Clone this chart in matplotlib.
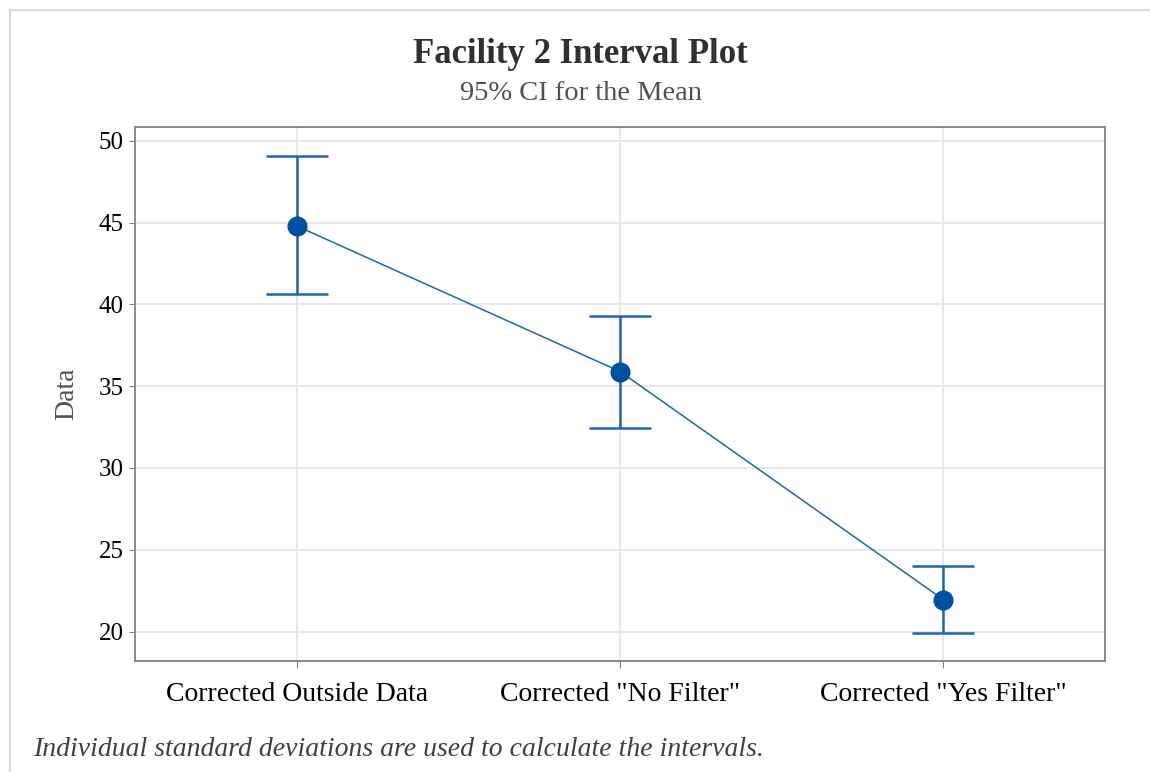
import matplotlib
matplotlib.use("Agg")
from matplotlib import pyplot as plt
from matplotlib.lines import Line2D

categories = ['Corrected Outside Data', 'Corrected "No Filter"', 'Corrected "Yes Filter"']
means = [44.8, 35.9, 21.95]
lower = [40.65, 32.45, 19.9]
upper = [49.1, 39.3, 24.0]
yticks = [20, 25, 30, 35, 40, 45, 50]

plt.rcParams['font.family'] = ['Liberation Serif', 'DejaVu Serif']

line_blue = '#1f64b4'
dot_blue = '#0050a0'

fig = plt.figure(figsize=(11.5, 7.72), dpi=100)
ax = fig.add_axes([0.1174, 0.1438, 0.8435, 0.6917])

x = list(range(len(categories)))
err_lo = [m - l for m, l in zip(means, lower)]
err_hi = [u - m for m, u in zip(means, upper)]

ax.errorbar(x, means, yerr=[err_lo, err_hi], fmt='none', ecolor=line_blue,
            elinewidth=1.8, capsize=22, capthick=1.8, zorder=3)
ax.plot(x, means, color=line_blue, linewidth=1.1, zorder=3)
ax.plot(x, means, 'o', color=dot_blue, markersize=13.5, zorder=4)

ax.set_xlim(-0.5, 2.5)
ax.set_ylim(18.2, 50.85)
ax.set_xticks(x)
ax.set_xticklabels(categories, fontsize=20)
ax.set_yticks(yticks)
ax.tick_params(axis='y', labelsize=18, length=4, color='#808080', pad=4)
ax.tick_params(axis='x', length=5, color='#808080', pad=10)
ax.grid(True, color='#e3e3e3', linewidth=1.2)
ax.set_axisbelow(True)
for s in ax.spines.values():
    s.set_color('#8a8a8a')
    s.set_linewidth(1.4)

ax.set_ylabel('Data', fontsize=20, color='#505050', labelpad=14)

fig.text(0.505, 0.929, 'Facility 2 Interval Plot', ha='center', va='center',
         fontsize=25, fontweight='bold', color='#303030')
fig.text(0.505, 0.879, '95% CI for the Mean', ha='center', va='center',
         fontsize=20.5, color='#505050')
fig.text(0.029, 0.029, 'Individual standard deviations are used to calculate the intervals.',
         ha='left', va='center', fontsize=20, style='italic', color='#404040')

# light frame of the original screenshot
fig.add_artist(Line2D([0.009, 1.0], [0.987, 0.987], transform=fig.transFigure,
                      color='#d8d8d8', linewidth=1.5))
fig.add_artist(Line2D([0.009, 0.009], [0.0, 0.987], transform=fig.transFigure,
                      color='#d8d8d8', linewidth=1.5))

fig.savefig('out.png', dpi=100)
